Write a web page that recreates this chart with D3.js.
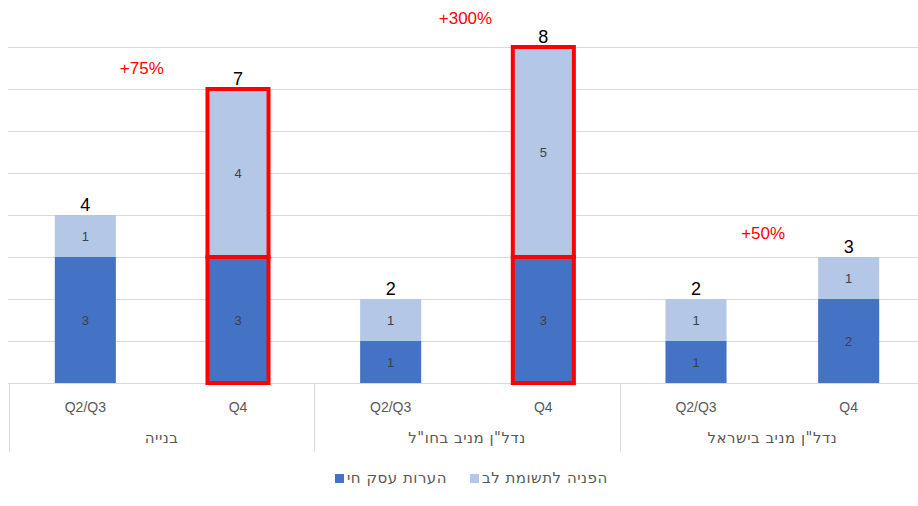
<!DOCTYPE html>
<html>
<head>
<meta charset="utf-8">
<script src="https://cdn.jsdelivr.net/npm/d3@7"></script>
<style>
  body { margin: 0; background: #fff; }
  #chart { position: relative; width: 918px; height: 506px; }
  svg text { font-family: "Liberation Sans", "DejaVu Sans", sans-serif; }
  .heb {
    position: absolute;
    font-family: "DejaVu Sans", "Liberation Sans", sans-serif;
    color: #595959;
    direction: rtl;
    white-space: nowrap;
    line-height: 1;
    letter-spacing: 0.5px;
  }
</style>
</head>
<body>
<div id="chart"></div>
<script>
// Chart data
const groups = ["בנייה", "נדל\"ן מניב בחו\"ל", "נדל\"ן מניב בישראל"];
const periods = ["Q2/Q3", "Q4"];
const seriesNames = ["הערות עסק חי", "הפניה לתשומת לב"];
const darkValues = [3, 3, 1, 3, 1, 2];
const lightValues = [1, 4, 1, 5, 1, 1];
const outlined = [false, true, false, true, false, false];
const growthLabels = ["+75%", "+300%", "+50%"];
// where each growth label sits: share of the way from Q2/Q3 to Q4, and value level
const growthOffsets = [0.37, 0.49, 0.44];
const growthLevels = [7.5, 8.7, 3.57];

const width = 918;
const height = 506;
const colors = ["#4472C4", "#B4C7E7"];

const categories = [];
groups.forEach((g, gi) => periods.forEach((p, pi) => {
  const i = gi * periods.length + pi;
  categories.push({ id: i, group: g, gi, period: p, dark: darkValues[i], light: lightValues[i], hi: outlined[i] });
}));

const chart = d3.select("#chart");
const svg = chart.append("svg")
  .attr("width", width)
  .attr("height", height);

const x = d3.scaleBand()
  .domain(categories.map(d => d.id))
  .range([9, 925])
  .paddingInner(0.6)
  .paddingOuter(0.3);
const step = x.step();
const center = i => x(i) + x.bandwidth() / 2;

const y = d3.scaleLinear()
  .domain([0, 8])
  .range([383, 47]);

// Gridlines
svg.append("g")
  .selectAll("line")
  .data(d3.range(0, 9))
  .enter()
  .append("line")
  .attr("x1", 8)
  .attr("x2", width)
  .attr("y1", d => Math.round(y(d)) + 0.5)
  .attr("y2", d => Math.round(y(d)) + 0.5)
  .attr("stroke", "#D9D9D9")
  .attr("stroke-width", 1);

// Stacked bars
const stack = d3.stack().keys(["dark", "light"]);
const layers = stack(categories);

const barG = svg.append("g");
layers.forEach((layer, li) => {
  barG.selectAll("rect.s" + li)
    .data(layer)
    .enter()
    .append("rect")
    .attr("class", "s" + li)
    .attr("x", d => x(d.data.id))
    .attr("width", x.bandwidth())
    .attr("y", d => y(d[1]))
    .attr("height", d => y(d[0]) - y(d[1]))
    .attr("fill", colors[li]);

  barG.selectAll("text.s" + li)
    .data(layer)
    .enter()
    .append("text")
    .attr("class", "s" + li)
    .attr("x", d => center(d.data.id))
    .attr("y", d => (y(d[0]) + y(d[1])) / 2 + 5)
    .attr("text-anchor", "middle")
    .attr("font-size", 13)
    .attr("fill", "#404040")
    .text(d => d[1] - d[0]);
});

// Red outlines on the highlighted bars
layers.forEach(layer => {
  barG.selectAll(null)
    .data(layer.filter(d => d.data.hi))
    .enter()
    .append("rect")
    .attr("x", d => x(d.data.id))
    .attr("width", x.bandwidth())
    .attr("y", d => y(d[1]))
    .attr("height", d => y(d[0]) - y(d[1]))
    .attr("fill", "none")
    .attr("stroke", "#FF0000")
    .attr("stroke-width", 4);
});

// Totals
svg.append("g")
  .selectAll("text")
  .data(categories)
  .enter()
  .append("text")
  .attr("x", d => center(d.id))
  .attr("y", d => y(d.dark + d.light) - 4)
  .attr("text-anchor", "middle")
  .attr("font-size", 18)
  .attr("fill", "#000")
  .text(d => d.dark + d.light);

// Growth annotations
svg.append("g")
  .selectAll("text")
  .data(groups)
  .enter()
  .append("text")
  .attr("x", (d, i) => center(i * 2) + step * growthOffsets[i])
  .attr("y", (d, i) => y(growthLevels[i]) + 6)
  .attr("text-anchor", "middle")
  .attr("font-size", 17)
  .attr("fill", "#FF0000")
  .text((d, i) => growthLabels[i]);

// Category axis
const axisG = svg.append("g");
axisG.selectAll("text.period")
  .data(categories)
  .enter()
  .append("text")
  .attr("class", "period")
  .attr("x", d => center(d.id))
  .attr("y", 412)
  .attr("text-anchor", "middle")
  .attr("font-size", 14)
  .attr("fill", "#595959")
  .text(d => d.period);

const bandEdge = i => 9 + i * step;
axisG.selectAll("line.sep")
  .data(d3.range(0, groups.length + 1))
  .enter()
  .append("line")
  .attr("class", "sep")
  .attr("x1", i => Math.round(bandEdge(i * 2)) + 0.5)
  .attr("x2", i => Math.round(bandEdge(i * 2)) + 0.5)
  .attr("y1", 383)
  .attr("y2", 452)
  .attr("stroke", "#D9D9D9");

// Hebrew group labels as html, so the bidi text centres properly
chart.selectAll("div.group")
  .data(groups)
  .enter()
  .append("div")
  .attr("class", "heb group")
  .style("left", (d, i) => bandEdge(i * 2) + "px")
  .style("width", step * 2 + "px")
  .style("top", "431px")
  .style("text-align", "center")
  .style("font-size", "15px")
  .text(d => d);

// Legend
const legendX = [335, 470];
seriesNames.forEach((name, i) => {
  svg.append("rect")
    .attr("x", legendX[i])
    .attr("y", 474)
    .attr("width", 9)
    .attr("height", 9)
    .attr("fill", colors[i]);
  chart.append("div")
    .attr("class", "heb")
    .style("left", legendX[i] + 12 + "px")
    .style("top", "471px")
    .style("font-size", "15px")
    .style("direction", "rtl")
    .text(name);
});
</script>
</body>
</html>
